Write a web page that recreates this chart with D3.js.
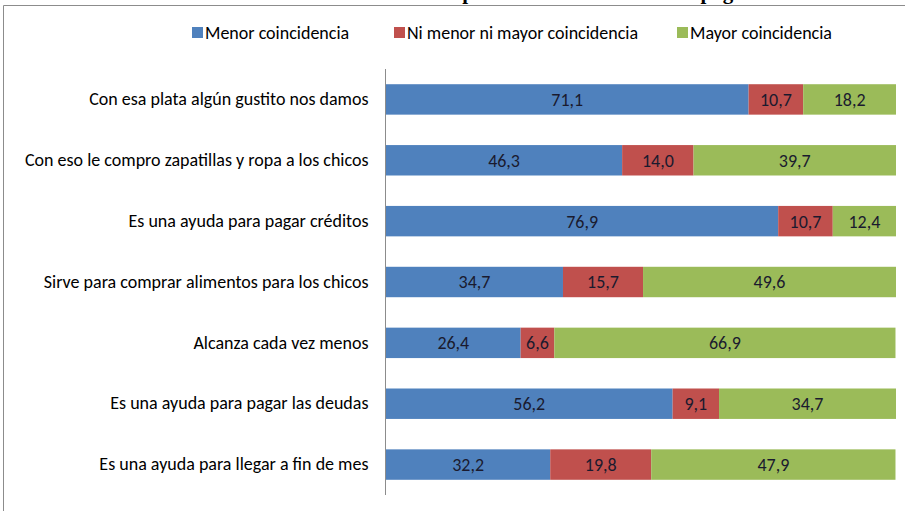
<!DOCTYPE html>
<html>
<head>
<meta charset="utf-8">
<script src="https://cdn.jsdelivr.net/npm/d3@7"></script>
<style>
  body { margin: 0; background: #fff; }
  svg { display: block; }
</style>
</head>
<body>
<svg id="chart" width="905" height="511"></svg>
<script>
// data
var categories = [
  'Con esa plata algún gustito nos damos',
  'Con eso le compro zapatillas y ropa a los chicos',
  'Es una ayuda para pagar créditos',
  'Sirve para comprar alimentos para los chicos',
  'Alcanza cada vez menos',
  'Es una ayuda para pagar las deudas',
  'Es una ayuda para llegar a fin de mes'
]
var seriesNames = ['Menor coincidencia', 'Ni menor ni mayor coincidencia', 'Mayor coincidencia']
var menor = [71.1, 46.3, 76.9, 34.7, 26.4, 56.2, 32.2]
var ninguna = [10.7, 14.0, 10.7, 15.7, 6.6, 9.1, 19.8]
var mayor = [18.2, 39.7, 12.4, 49.6, 66.9, 34.7, 47.9]
var colors = ['#4f81bd', '#c0504d', '#9bbb59']
var titleText = 'Opinión sobre el destino del pago'

var svg = d3.select('#chart')
var labelFont = 'Calibri, Carlito, Lato, sans-serif'

// frame (cut off at right and bottom like the picture)
svg.append('path')
  .attr('d', 'M3.5,511 L3.5,5.5 L905,5.5')
  .attr('fill', 'none')
  .attr('stroke', '#8c8c8c')
  .attr('stroke-width', 1)

// title, mostly outside the picture
svg.append('text')
  .attr('x', 446).attr('y', -1)
  .attr('font-family', '"Liberation Serif", "Times New Roman", serif')
  .attr('font-weight', 'bold')
  .attr('font-size', 21)
  .text(titleText)

var x = d3.scaleLinear().domain([0, 100]).range([386, 896])
var y = d3.scaleBand().domain(categories).range([69, 495]).paddingInner(0.5).paddingOuter(0.25)

var rows = categories.map(function(c, i) {
  return { cat: c, menor: menor[i], ninguna: ninguna[i], mayor: mayor[i] }
})
var stack = d3.stack().keys(['menor', 'ninguna', 'mayor'])(rows)

var g = svg.append('g')
var layer = g.selectAll('g.layer')
  .data(stack)
  .enter().append('g')
  .attr('class', 'layer')
  .attr('fill', function(d, i) { return colors[i] })

layer.selectAll('rect')
  .data(function(d) { return d })
  .enter().append('rect')
  .attr('x', function(d) { return x(d[0]) })
  .attr('width', function(d) { return x(d[1]) - x(d[0]) })
  .attr('y', function(d) { return y(d.data.cat) })
  .attr('height', y.bandwidth())

layer.selectAll('text')
  .data(function(d) { return d })
  .enter().append('text')
  .attr('x', function(d) { return (x(d[0]) + x(d[1])) / 2 })
  .attr('y', function(d) { return y(d.data.cat) + y.bandwidth() / 2 })
  .attr('dy', '0.36em')
  .attr('text-anchor', 'middle')
  .attr('fill', '#1a1a2e')
  .attr('font-family', labelFont)
  .attr('font-size', 18)
  .text(function(d) { return (d[1] - d[0]).toFixed(1).replace('.', ',') })

// category axis
var yAxis = d3.axisLeft(y).tickSize(0).tickPadding(17)
var ax = svg.append('g')
  .attr('transform', 'translate(385.5,0)')
  .call(yAxis)
ax.select('.domain').attr('stroke', '#8c8c8c').attr('d', 'M0,69V495')
ax.selectAll('text')
  .attr('font-family', labelFont)
  .attr('font-size', 18)
  .attr('fill', '#000')

// legend
var legendX = [192, 394, 677]
var legend = svg.append('g').selectAll('g')
  .data(seriesNames)
  .enter().append('g')
  .attr('transform', function(d, i) { return 'translate(' + legendX[i] + ',32.5)' })
legend.append('rect')
  .attr('x', 0).attr('y', -5.5)
  .attr('width', 11).attr('height', 11)
  .attr('fill', function(d, i) { return colors[i] })
legend.append('text')
  .attr('x', 13)
  .attr('dy', '0.36em')
  .attr('font-family', labelFont)
  .attr('font-size', 18)
  .text(function(d) { return d })
</script>
</body>
</html>
